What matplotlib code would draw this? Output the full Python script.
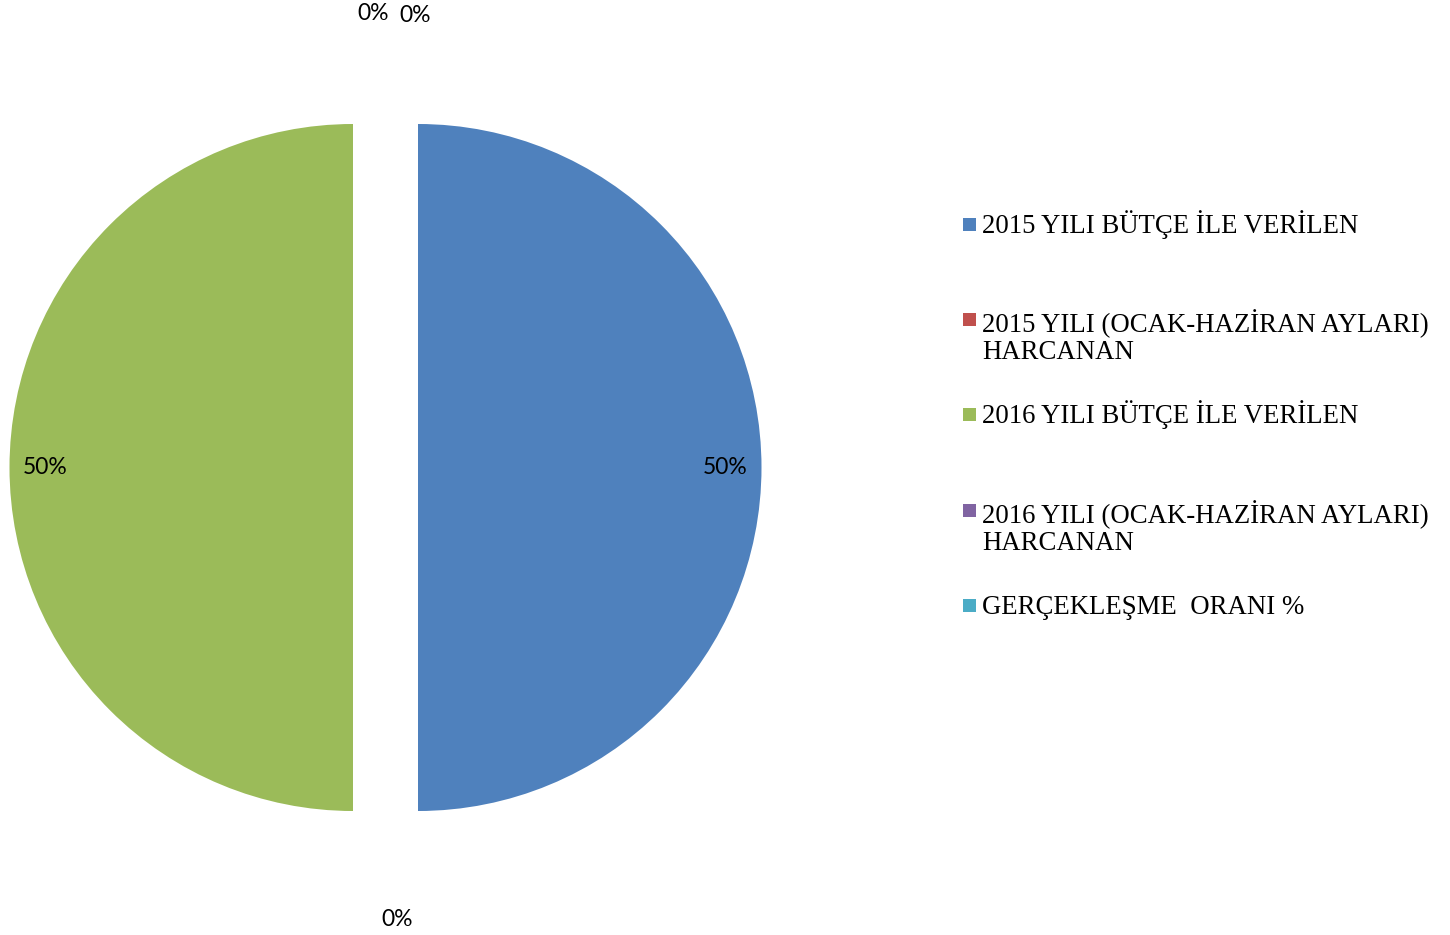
import matplotlib
matplotlib.use("Agg")
import matplotlib.pyplot as plt
from matplotlib.patches import Rectangle

categories = [
    "2015 YILI BÜTÇE İLE VERİLEN",
    "2015 YILI (OCAK-HAZİRAN AYLARI)\nHARCANAN",
    "2016 YILI BÜTÇE İLE VERİLEN",
    "2016 YILI (OCAK-HAZİRAN AYLARI)\nHARCANAN",
    "GERÇEKLEŞME  ORANI %",
]
values = [100.0, 0.0, 100.0, 0.0, 0.0]
colors = ["#4F81BD", "#C0504D", "#9BBB59", "#8064A2", "#4BACC6"]

W, H = 1450, 935
fig = plt.figure(figsize=(W / 100, H / 100), dpi=100)
ax = fig.add_axes([0, 0, 1, 1])

cx, cy, R = 385.5, 467.5, 343.5
explode = [32.5] * len(values)

wedges, texts, autotexts = ax.pie(
    values, colors=colors, startangle=90, counterclock=False,
    center=(cx, cy), radius=R, explode=explode,
    autopct=lambda p: f"{p:.0f}%", pctdistance=0.895,
    wedgeprops=dict(linewidth=0),
    textprops=dict(fontsize=16.5, family="Lato", color="black"),
)
ax.set_xlim(0, W)
ax.set_ylim(0, H)
ax.set_aspect("auto")
ax.axis("off")

# reposition the zero-value labels (best-fit outside placement)
zero_pos = {1: (11.5, -452.5), 3: (-12.5, 453.5), 4: (29.5, 451.5)}
for i, (dx, dy) in zero_pos.items():
    autotexts[i].set_position((cx + dx, cy + dy))

# legend
line_gap = 31
baselines = [233, 328, 423, 519, 614]
for lab, col, yb in zip(categories, colors, baselines):
    ax.add_patch(Rectangle((963, H - yb + 2), 13, 13, facecolor=col, edgecolor="none"))
    nlines = lab.count("\n")
    ax.text(982, H - yb - nlines * line_gap, lab, fontsize=19.3,
            family="Liberation Serif", va="baseline", ha="left", linespacing=1.1)

fig.savefig("out.png", dpi=100)
